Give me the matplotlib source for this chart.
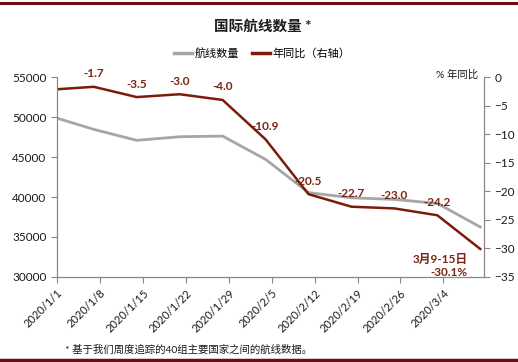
import matplotlib
matplotlib.use('Agg')
import matplotlib.pyplot as plt
from matplotlib.lines import Line2D
import pandas as pd

# 周度数据（最后一周为3月9-15日）
weeks = pd.to_datetime(['2019-12-31', '2020-01-07', '2020-01-14', '2020-01-21', '2020-01-28',
                        '2020-02-04', '2020-02-11', '2020-02-18', '2020-02-25', '2020-03-03',
                        '2020-03-10'])
routes = [50100, 48460, 47090, 47540, 47620, 44710, 40550, 39900, 39700, 39200, 36250]
yoy = [-2.2, -1.7, -3.5, -3.0, -4.0, -10.9, -20.5, -22.7, -23.0, -24.2, -30.1]
yoy_labels = ['', '-1.7', '-3.5', '-3.0', '-4.0', '-10.9', '-20.5', '-22.7', '-23.0', '-24.2', '']

tick_dates = pd.date_range('2020-01-01', '2020-03-04', freq='7D')
tick_labels = [f'{d.year}/{d.month}/{d.day}' for d in tick_dates]

plt.rcParams['font.family'] = ['Lato', 'Noto Sans CJK SC', 'DejaVu Sans']

gray = '#a6a6a6'
red = '#7b1c0b'
lab_col = '#7a2514'
spine_col = '#868686'

fig = plt.figure(figsize=(5.18, 3.62), dpi=100)
ax = fig.add_axes([0.110, 0.235, 0.824, 0.552])
ax2 = ax.twinx()

ax.plot(weeks, routes, color=gray, lw=2.0, solid_joinstyle='miter')
ax2.plot(weeks, yoy, color=red, lw=1.8, solid_joinstyle='miter')

ax.set_xlim(pd.Timestamp('2020-01-01'), pd.Timestamp('2020-03-10 14:00'))
ax.set_ylim(30000, 55000)
ax.set_yticks(range(30000, 55001, 5000))
ax2.set_ylim(-35, 0)
ax2.set_yticks(range(-35, 1, 5))

ax.set_xticks(tick_dates)
ax.set_xticklabels(tick_labels, rotation=45, ha='right', rotation_mode='anchor', fontsize=8)

for a in (ax, ax2):
    a.spines['top'].set_visible(False)
    for s in ('left', 'right', 'bottom'):
        a.spines[s].set_color(spine_col)
    a.tick_params(colors=spine_col, labelcolor='#1a1a1a', length=4, width=0.8, labelsize=8.5)
ax.tick_params(axis='x', labelsize=8)

for x, y, t in zip(weeks, yoy, yoy_labels):
    if t:
        ax2.annotate(t, (x, y), xytext=(0, 13), textcoords='offset pixels',
                     ha='center', va='center', fontsize=8.5, fontweight='bold', color=lab_col)
ax2.annotate('3月9-15日', (weeks[-1], yoy[-1]), xytext=(-12, -10), textcoords='offset pixels',
             ha='right', va='center', fontsize=8.5, fontweight='bold', color=lab_col)
ax2.annotate('-30.1%', (weeks[-1], yoy[-1]), xytext=(-13, -24), textcoords='offset pixels',
             ha='right', va='center', fontsize=8.5, fontweight='bold', color=lab_col)

fig.text(478 / 518, 1 - 75 / 362, '% 年同比', ha='right', va='center', fontsize=7.5, color='#1a1a1a')

fig.text(263 / 518, 1 - 27 / 362, '国际航线数量 *', ha='center', va='center',
         fontsize=10.5, fontweight='bold', color='#1a1a1a')

handles = [Line2D([], [], color=gray, lw=2.5), Line2D([], [], color=red, lw=2.5)]
fig.legend(handles, ['航线数量', '年同比（右轴）'], loc='center', bbox_to_anchor=(262 / 518, 1 - 53 / 362),
           ncol=2, frameon=False, fontsize=8, handlelength=1.6, handletextpad=0.2, columnspacing=1.2)

fig.text(65 / 518, 1 - 350 / 362, '* 基于我们周度追踪的40组主要国家之间的航线数据。', ha='left', va='center',
         fontsize=7.5, color='#1a1a1a')

fig.add_artist(Line2D([0, 1], [1 - 3 / 362, 1 - 3 / 362], transform=fig.transFigure, color='#6b0f12', lw=2.2))
fig.add_artist(Line2D([0, 1], [1 - 360 / 362, 1 - 360 / 362], transform=fig.transFigure, color='#6b0f12', lw=2.5))

fig.savefig('out.png', dpi=100)
